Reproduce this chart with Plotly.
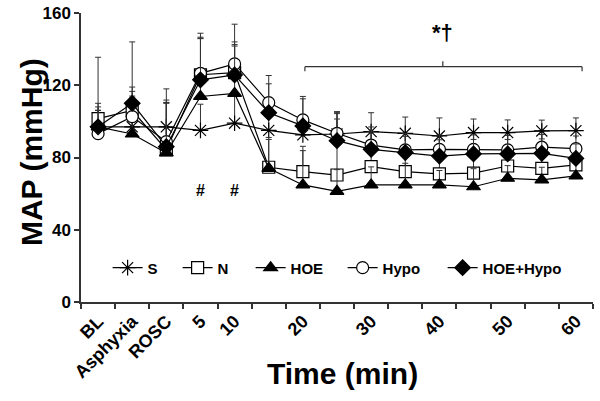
import plotly.graph_objects as go

categories = ["BL", "Asphyxia", "ROSC", "5", "10", "15", "20", "25", "30", "35", "40", "45", "50", "55", "60"]
tick_labels = ["BL", "Asphyxia", "ROSC", "5", "10", "", "20", "", "30", "", "40", "", "50", "", "60"]

S = [97, 97, 97, 95, 99, 95, 92.5, 93, 94.3, 93.4, 91.9, 93.8, 93.8, 94.7, 94.9]
N = [101.5, 106, 84.3, 125.8, 127, 74.6, 72.2, 70.3, 74.9, 72.2, 70.9, 71.3, 75.3, 74, 75.9]
HOE = [97, 93, 82.5, 113.8, 115.5, 74, 64.8, 61.3, 64.8, 64.8, 64.8, 63.8, 68.5, 67.6, 69.8]
Hypo = [93.2, 102.6, 88.8, 126.6, 131.8, 110.4, 100.8, 93.4, 86.9, 84.2, 84.5, 84.5, 84.2, 85.7, 84.9]
HOE_Hypo = [97, 110, 86, 123, 125.7, 104.8, 97.5, 89.3, 84.5, 82.7, 80.8, 82, 82, 82.3, 79.5]

S_sd = [13, 17, 21, 14.5, 15, 14, 11, 12, 10.5, 9, 10, 7.5, 7, 6, 7]
N_sd = [34, 13, 26, 23, 17, 16.5, 14, 34, 8, 10, 8, 10, 6, 6, 6]
HOE_sd = [9, 20, 28, 32, 27, 16, 19, 12, 10, 12, 8, 10, 7, 7, 7]
Hypo_sd = [13, 14, 23, 20, 22, 15, 13, 12, 10, 9, 8, 8, 8, 7, 7]
HOE_Hypo_sd = [11, 34, 24, 23, 16, 16, 15, 12, 10, 9, 9, 8, 8, 8, 8]

hash_positions = [3, 4]  # category indices of "5" and "10"

series = [
    ("S", S, S_sd, "asterisk-open", 13, "black", 25),
    ("N", N, N_sd, "square", 12, "white", 28),
    ("HOE", HOE, HOE_sd, "triangle-up", 12, "black", 47),
    ("Hypo", Hypo, Hypo_sd, "circle", 12, "white", 55),
    ("HOE+Hypo", HOE_Hypo, HOE_Hypo_sd, "diamond", 12, "black", 80),
]

FONT = "Liberation Sans, Arial, sans-serif"

fig = go.Figure()
for name, vals, sd, sym, size, fill, lw in series:
    fig.add_trace(go.Scatter(
        x=categories, y=vals, name=name, mode="lines+markers",
        line=dict(color="black", width=1.2),
        marker=dict(symbol=sym, size=size, color=fill,
                    line=dict(color="black", width=1.2)),
        error_y=dict(type="data", array=sd, arrayminus=[0] * len(sd),
                     symmetric=False, color="#333333", thickness=1, width=3),
        legendwidth=lw,
    ))

# significance bracket
x0, x1, xm = 6.06, 14.18, 10.1
yb = 130.3
for (xa, ya, xb, yb2) in [(x0, yb, x1, yb), (x0, yb, x0, yb - 2.5), (x1, yb, x1, yb - 2.5), (xm, yb, xm, yb + 3)]:
    fig.add_shape(type="line", xref="x", yref="y", x0=xa, y0=ya, x1=xb, y1=yb2,
                  line=dict(color="#333333", width=1.2))

fig.add_annotation(x=xm, y=149, xref="x", yref="y", text="*†", showarrow=False,
                   font=dict(family=FONT, size=22, color="black", weight="bold"))
for c in hash_positions:
    fig.add_annotation(x=c, y=62, xref="x", yref="y", text="#", showarrow=False,
                       font=dict(family=FONT, size=16, color="black", weight="bold"))

# axis titles
fig.add_annotation(x=0.51, y=-0.249, xref="paper", yref="paper", text="Time (min)",
                   showarrow=False, xanchor="center", yanchor="middle",
                   font=dict(family=FONT, size=30, color="black", weight="bold"))
fig.add_annotation(x=-0.097, y=0.52, xref="paper", yref="paper", text="MAP (mmHg)",
                   showarrow=False, xanchor="center", yanchor="middle", textangle=-90,
                   font=dict(family=FONT, size=30, color="black", weight="bold"))

fig.update_layout(
    width=600, height=401,
    margin=dict(l=81, r=7, t=13, b=99, autoexpand=False),
    paper_bgcolor="white", plot_bgcolor="white",
    font=dict(family=FONT, color="black", weight="bold"),
    showlegend=True,
    legend=dict(orientation="h", x=0.052, y=0.118, xanchor="left", yanchor="middle",
                bgcolor="rgba(0,0,0,0)",
                font=dict(family=FONT, size=15, color="black", weight="bold")),
    xaxis=dict(
        type="category", categoryorder="array", categoryarray=categories,
        range=[-0.5, 14.5], tickmode="array", tickvals=categories, ticktext=tick_labels,
        tickson="boundaries", ticks="outside", ticklen=5, tickwidth=1.5, tickcolor="#333",
        showline=True, linecolor="#333", linewidth=1.5, showgrid=False, zeroline=False,
        tickangle=-45, automargin=False, ticklabeloverflow="allow",
        tickfont=dict(family=FONT, size=18, color="black", weight="bold"),
    ),
    yaxis=dict(
        range=[0, 160], tickvals=[0, 40, 80, 120, 160],
        ticks="outside", ticklen=5, tickwidth=1.5, tickcolor="#333",
        showline=True, linecolor="#333", linewidth=1.5, showgrid=False, zeroline=False,
        automargin=False, ticklabeloverflow="allow",
        tickfont=dict(family=FONT, size=17, color="black", weight="bold"),
    ),
)

# remove the browser's default 8px page margin so the figure fills the window exactly
fig.write_html("out.html", config={"displayModeBar": False},
               post_script="document.body.style.margin='0';")
